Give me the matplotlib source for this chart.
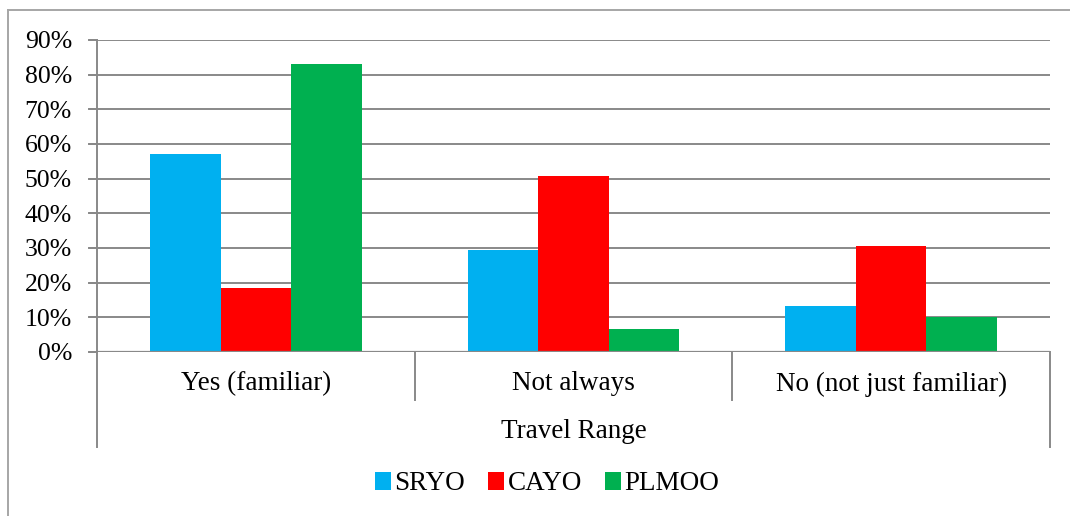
import matplotlib.pyplot as plt
from matplotlib.lines import Line2D
import numpy as np

categories = ['Yes (familiar)', 'Not always', 'No (not just familiar)']
series_names = ['SRYO', 'CAYO', 'PLMOO']
sryo = [0.57, 0.295, 0.134]
cayo = [0.185, 0.508, 0.306]
plmoo = [0.831, 0.066, 0.10]
y_ticks = [0.0, 0.1, 0.2, 0.3, 0.4, 0.5, 0.6, 0.7, 0.8, 0.9]
axis_title = 'Travel Range'

colors = ['#00b0f0', '#ff0000', '#00b050']
grid_color = '#898989'
plt.rcParams['font.family'] = ['Liberation Serif', 'DejaVu Serif']

W, H = 1070, 516
fig = plt.figure(figsize=(W / 100, H / 100), dpi=100)

# plot area in pixel coordinates
x0, x1, y_top, y_base = 97, 1050, 40, 352
ax = fig.add_axes([x0 / W, 1 - y_base / H, (x1 - x0) / W, (y_base - y_top) / H])

n = len(categories)
x = np.arange(n)
bw = 0.222
for i, (vals, name) in enumerate(zip([sryo, cayo, plmoo], series_names)):
    ax.bar(x + (i - 1) * bw, vals, width=bw, color=colors[i], label=name, zorder=3)

ax.set_xlim(-0.5, n - 0.5)
ax.set_ylim(0, 0.9)
ax.set_yticks(y_ticks)
ax.set_yticklabels([f'{int(round(t * 100))}%' for t in y_ticks], fontsize=18.5)
ax.tick_params(axis='y', length=6, width=1.2, color=grid_color, pad=12)
ax.set_xticks([])
ax.yaxis.grid(True, color=grid_color, linewidth=1.4, zorder=0)
for s in ['top', 'right', 'bottom']:
    ax.spines[s].set_visible(False)
ax.spines['left'].set_color(grid_color)
ax.spines['left'].set_linewidth(1.4)
ax.axhline(0, color=grid_color, linewidth=1.6, zorder=4)

# extend gridlines to the left of the axis to match tick marks
trans = ax.get_yaxis_transform()
for t in y_ticks:
    ax.add_line(Line2D([-8 / (x1 - x0), 0], [t, t], transform=trans,
                       color=grid_color, linewidth=1.4, clip_on=False))

# category separators and outer brackets below the axis
def px_to_axes_y(py):
    return (y_base - py) / (y_base - y_top)

for k in range(n + 1):
    xpos = k / n
    bottom = 447 if k in (0, n) else 400
    ax.add_line(Line2D([xpos, xpos], [0, px_to_axes_y(bottom)], transform=ax.transAxes,
                       color=grid_color, linewidth=1.4, clip_on=False))

for i, cat in enumerate(categories):
    ax.text((i + 0.5) / n, px_to_axes_y(384), cat, transform=ax.transAxes,
            ha='center', va='center', fontsize=19.5)
ax.text(0.5, px_to_axes_y(432), axis_title, transform=ax.transAxes,
        ha='center', va='center', fontsize=19.5)

fig.legend(loc='center', bbox_to_anchor=(547 / W, 1 - 484 / H), ncol=3, frameon=False,
           fontsize=19.5, handlelength=0.6, handleheight=0.6, handletextpad=0.12,
           columnspacing=0.85)

# chart area border (top and left edges visible)
fig.add_artist(Line2D([8 / W, 1], [1 - 10 / H, 1 - 10 / H], transform=fig.transFigure,
                      color='#a6a6a6', linewidth=1.4))
fig.add_artist(Line2D([8 / W, 8 / W], [0, 1 - 10 / H], transform=fig.transFigure,
                      color='#a6a6a6', linewidth=1.4))

fig.savefig('out.png', dpi=100)
